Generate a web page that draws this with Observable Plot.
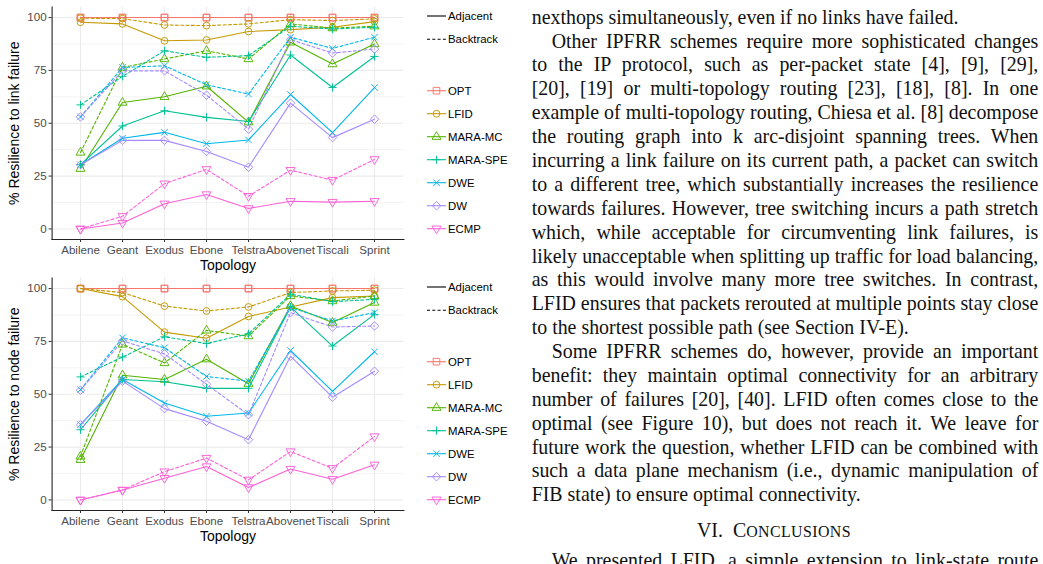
<!DOCTYPE html>
<html>
<head>
<meta charset="utf-8">
<script src="https://cdn.jsdelivr.net/npm/d3@7"></script>
<script src="https://cdn.jsdelivr.net/npm/@observablehq/plot@0.6"></script>
<style>
  html, body { margin: 0; padding: 0; background: #fff; }
  #page { position: relative; width: 1043px; height: 564px; overflow: hidden; background: #fff; }
  .line { position: absolute; height: 24px; line-height: 24px; font-family: "Liberation Serif", "Times New Roman", serif; font-size: 19.9px; color: #111; white-space: pre; }
  .line span { white-space: pre; }
</style>
</head>
<body>
<div id="page"></div>
<script>
// ---------------- data ----------------
const topologies = ["Abilene", "Geant", "Exodus", "Ebone", "Telstra", "Abovenet", "Tiscali", "Sprint"];
const algorithms = ["OPT", "LFID", "MARA-MC", "MARA-SPE", "DWE", "DW", "ECMP"];
const algorithmColors = ["#F8766D", "#C49A00", "#53B400", "#00C094", "#00B6EB", "#A58AFF", "#FB61D7"];
const modes = ["Adjacent", "Backtrack"];
const yTicks = [0, 25, 50, 75, 100];
const yMinor = [12.5, 37.5, 62.5, 87.5];

// rows follow `algorithms`, columns follow `topologies`
const linkAdjacent = [
  [100, 100, 100, 100, 100, 100, 100, 100],
  [97.8, 97, 89, 89.4, 93.4, 94.3, 95.4, 98.1],
  [28.5, 59.8, 62.5, 67.5, 50.5, 88.3, 78, 87.5],
  [30.4, 48.7, 55.9, 52.8, 50.8, 82.3, 66.9, 81.6],
  [30.4, 42.9, 45.7, 40.3, 42.1, 63.6, 45.6, 66.9],
  [30.4, 41.9, 41.9, 36.6, 29.2, 59.5, 43.2, 51.9],
  [0, 2.8, 11.9, 16.3, 9.7, 13.1, 12.7, 13.1]
];
const linkBacktrack = [
  [100, 100, 100, 100, 100, 100, 100, 100],
  [99.7, 99.5, 96.5, 96.2, 97, 99, 98.6, 99.4],
  [36.2, 76.4, 80.4, 84.3, 80.4, 97, 95, 95.9],
  [58.7, 72.2, 84.3, 81.2, 82, 95.9, 94.6, 95.4],
  [53, 76.4, 77.2, 68.2, 63.8, 90.7, 85.4, 90.7],
  [53, 74.8, 74.8, 63.3, 47.2, 89.6, 83.2, 85.1],
  [0, 6, 21.4, 28.2, 15.5, 27.8, 23.1, 32.9]
];
const nodeAdjacent = [
  [100, 100, 100, 100, 100, 100, 100, 100],
  [100, 96.2, 79.4, 76.5, 86.8, 91.3, 95.7, 96.5],
  [19, 59, 57, 66.6, 55, 91.8, 83.9, 93.4],
  [33.2, 57, 55.9, 52.8, 52.8, 91.3, 72.8, 87.8],
  [35.6, 57, 45.9, 39.6, 41.1, 70.7, 51.4, 70.1],
  [35.6, 56.2, 43.2, 37.2, 28.5, 68, 48.6, 60.9],
  [0, 4.7, 10.3, 15.8, 5.9, 14.6, 9.8, 16.6]
];
const nodeBacktrack = [
  [100, 100, 100, 100, 100, 100, 100, 100],
  [100, 98.1, 91.7, 89.4, 91.3, 98.1, 98.9, 99.2],
  [20.6, 73.6, 64.8, 80.2, 77.5, 96.5, 94.1, 96.5],
  [58.2, 67.6, 77.2, 74, 78.6, 97.3, 93.8, 94.9],
  [52.2, 76.7, 72, 58.4, 56.2, 91, 84.7, 88.6],
  [51.9, 75.2, 69.1, 54.7, 40.3, 88.6, 81.8, 82.3],
  [0, 4.7, 13.4, 19.8, 9.5, 22.9, 15, 30]
];

const xTitle = "Topology";
const yTitleLink = "% Resilience to link failure";
const yTitleNode = "% Resilience to node failure";

const bodyLines = [
  "nexthops simultaneously, even if no links have failed.",
  "Other IPFRR schemes require more sophisticated changes",
  "to the IP protocol, such as per-packet state [4], [9], [29],",
  "[20], [19] or multi-topology routing [23], [18], [8]. In one",
  "example of multi-topology routing, Chiesa et al. [8] decompose",
  "the routing graph into k arc-disjoint spanning trees. When",
  "incurring a link failure on its current path, a packet can switch",
  "to a different tree, which substantially increases the resilience",
  "towards failures. However, tree switching incurs a path stretch",
  "which, while acceptable for circumventing link failures, is",
  "likely unacceptable when splitting up traffic for load balancing,",
  "as this would involve many more tree switches. In contrast,",
  "LFID ensures that packets rerouted at multiple points stay close",
  "to the shortest possible path (see Section IV-E).",
  "Some IPFRR schemes do, however, provide an important",
  "benefit: they maintain optimal connectivity for an arbitrary",
  "number of failures [20], [40]. LFID often comes close to the",
  "optimal (see Figure 10), but does not reach it. We leave for",
  "future work the question, whether LFID can be combined with",
  "such a data plane mechanism (i.e., dynamic manipulation of",
  "FIB state) to ensure optimal connectivity."
];
const indentedLines = [1, 14];
const paragraphEnds = [0, 13, 20];
const headingNumber = "VI.";
const headingWord = "Conclusions";
const nextParagraphLine = "We presented LFID, a simple extension to link-state route";

// ---------------- symbols (ggplot open shapes) ----------------
function rad(s) { return Math.sqrt(s / Math.PI); }
const shapeSquare = { draw(c, s) { const r = rad(s) * 0.97; c.moveTo(-r, -r); c.lineTo(r, -r); c.lineTo(r, r); c.lineTo(-r, r); c.closePath(); } };
const shapeCircle = { draw(c, s) { const r = rad(s); c.moveTo(r, 0); c.arc(0, 0, r, 0, 2 * Math.PI); } };
const shapeTriangle = { draw(c, s) { const r = rad(s); c.moveTo(0, -1.5 * r); c.lineTo(1.32 * r, 0.78 * r); c.lineTo(-1.32 * r, 0.78 * r); c.closePath(); } };
const shapePlus = { draw(c, s) { const r = rad(s) * 1.2; c.moveTo(-r, 0); c.lineTo(r, 0); c.moveTo(0, -r); c.lineTo(0, r); } };
const shapeTimes = { draw(c, s) { const r = rad(s) * 0.95; c.moveTo(-r, -r); c.lineTo(r, r); c.moveTo(-r, r); c.lineTo(r, -r); } };
const shapeDiamond = { draw(c, s) { const r = rad(s) * 1.25; c.moveTo(0, -r); c.lineTo(r, 0); c.lineTo(0, r); c.lineTo(-r, 0); c.closePath(); } };
const shapeTriangleDown = { draw(c, s) { const r = rad(s); c.moveTo(0, 1.5 * r); c.lineTo(1.32 * r, -0.78 * r); c.lineTo(-1.32 * r, -0.78 * r); c.closePath(); } };
const algorithmShapes = [shapeSquare, shapeCircle, shapeTriangle, shapePlus, shapeTimes, shapeDiamond, shapeTriangleDown];

const POINT_R = 3.4;
const SANS = "'Liberation Sans', Arimo, Arial, Helvetica, sans-serif";

function tidy(matrix, mode) {
  const rows = [];
  algorithms.forEach((a, i) => topologies.forEach((t, j) => rows.push({ algorithm: a, topology: t, mode, value: matrix[i][j] })));
  return rows;
}

function chart(adjacent, backtrack, yTitle) {
  const adj = tidy(adjacent, "Adjacent");
  const back = tidy(backtrack, "Backtrack");
  return Plot.plot({
    width: 410,
    height: 275,
    marginLeft: 51.6,
    marginRight: 6.6,
    marginTop: 6.5,
    marginBottom: 36,
    style: { fontFamily: SANS, background: "transparent", overflow: "visible" },
    x: { type: "point", domain: topologies, padding: 0.6, label: null },
    y: { domain: [-5, 105], label: null },
    color: { domain: algorithms, range: algorithmColors },
    symbol: { domain: algorithms, range: algorithmShapes },
    marks: [
      Plot.ruleY(yMinor, { stroke: "#EDEDED", strokeWidth: 0.6 }),
      Plot.ruleY(yTicks, { stroke: "#EBEBEB", strokeWidth: 1.1 }),
      Plot.ruleX(topologies, { stroke: "#EBEBEB", strokeWidth: 1.1 }),
      Plot.line(adj, { x: "topology", y: "value", z: "algorithm", stroke: "algorithm", strokeWidth: 1.1 }),
      Plot.line(back, { x: "topology", y: "value", z: "algorithm", stroke: "algorithm", strokeWidth: 1.1, strokeDasharray: "3,2.3" }),
      Plot.dot(adj.concat(back), { x: "topology", y: "value", symbol: "algorithm", stroke: "algorithm", fill: "none", r: POINT_R, strokeWidth: 0.95 }),
      Plot.frame({ anchor: "left", stroke: "#222", strokeWidth: 1.1 }),
      Plot.frame({ anchor: "bottom", stroke: "#222", strokeWidth: 1.1 }),
      Plot.axisX({ tickSize: 3, tickPadding: 3.5, fontSize: 11.6, stroke: "#333", fill: "#4D4D4D", label: null }),
      Plot.axisY({ ticks: yTicks, tickSize: 3, tickPadding: 2.5, fontSize: 11.6, stroke: "#333", fill: "#4D4D4D", label: null }),
      Plot.text([xTitle], { frameAnchor: "bottom", dy: 30.5, fontSize: 14, fill: "#000" }),
      Plot.text([yTitle], { frameAnchor: "left", textAnchor: "middle", lineAnchor: "middle", rotate: -90, dx: -38, fontSize: 14, fill: "#000" })
    ]
  });
}

const page = document.getElementById("page");

function place(el, left, top) {
  const wrap = document.createElement("div");
  wrap.style.position = "absolute";
  wrap.style.left = left + "px";
  wrap.style.top = top + "px";
  wrap.appendChild(el);
  page.appendChild(wrap);
}

place(chart(linkAdjacent, linkBacktrack, yTitleLink), 0, 0);
place(chart(nodeAdjacent, nodeBacktrack, yTitleNode), 0, 271);

// ---------------- legends ----------------
function legend(top) {
  const svg = d3.select(page).append("svg")
    .style("position", "absolute").style("left", "410px").style("top", top + "px")
    .style("overflow", "visible")
    .attr("width", 110).attr("height", 250)
    .attr("font-family", SANS).attr("font-size", 11.4);
  const x0 = 17, x1 = 36, xc = 26.5, xt = 38;
  modes.forEach((m, i) => {
    const y = 16 + i * 23.3;
    svg.append("line").attr("x1", x0).attr("x2", x1).attr("y1", y).attr("y2", y)
      .attr("stroke", "#000").attr("stroke-width", 1.1)
      .attr("stroke-dasharray", m === "Backtrack" ? "3,2.3" : null);
    svg.append("text").attr("x", xt).attr("y", y).attr("dy", "0.35em").text(m);
  });
  algorithms.forEach((a, i) => {
    const y = 90.7 + i * 23;
    const col = algorithmColors[i];
    svg.append("line").attr("x1", x0).attr("x2", x1).attr("y1", y).attr("y2", y)
      .attr("stroke", col).attr("stroke-width", 1.1);
    svg.append("path").attr("transform", `translate(${xc},${y})`)
      .attr("d", d3.symbol(algorithmShapes[i], Math.PI * POINT_R * POINT_R)())
      .attr("fill", "none").attr("stroke", col).attr("stroke-width", 0.95);
    svg.append("text").attr("x", xt).attr("y", y).attr("dy", "0.35em").text(a);
  });
}
legend(0);
legend(271);

// ---------------- body text ----------------
const COL_LEFT = 531.7, COL_RIGHT = 1038.3, LINE0 = 16.7, LEAD = 23.88, INDENT = 20;

function textLine(str, centerY, indent, justify) {
  const div = document.createElement("div");
  div.className = "line";
  const left = COL_LEFT + (indent ? INDENT : 0);
  div.style.left = left + "px";
  div.style.top = (centerY - 12) + "px";
  const span = document.createElement("span");
  span.textContent = str;
  div.appendChild(span);
  page.appendChild(div);
  if (justify) {
    const w = span.getBoundingClientRect().width;
    const spaces = (str.match(/ /g) || []).length;
    if (spaces > 0) span.style.wordSpacing = ((COL_RIGHT - left - w) / spaces) + "px";
  }
  return div;
}

bodyLines.forEach((s, i) => {
  textLine(s, LINE0 + i * LEAD, indentedLines.includes(i), !paragraphEnds.includes(i));
});

// section heading in LaTeX-like small caps
const head = document.createElement("div");
head.className = "line";
head.style.left = "697px";
head.style.top = (530 - 12) + "px";
const hNum = document.createElement("span");
hNum.textContent = headingNumber + "  " + headingWord[0];
const hRest = document.createElement("span");
hRest.textContent = headingWord.slice(1).toUpperCase();
hRest.style.fontSize = "0.8em";
hRest.style.letterSpacing = "0.4px";
head.appendChild(hNum);
head.appendChild(hRest);
page.appendChild(head);

textLine(nextParagraphLine, 560, true, true);
</script>
</body>
</html>
